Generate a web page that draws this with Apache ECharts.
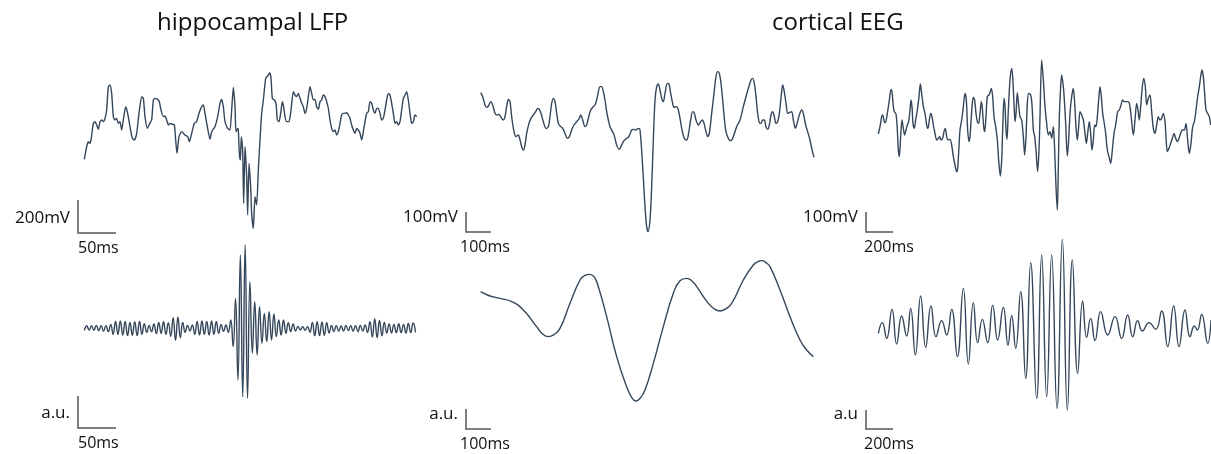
<!DOCTYPE html>
<html>
<head>
<meta charset="utf-8">
<script src="https://cdn.jsdelivr.net/npm/echarts@6/dist/echarts.min.js"></script>
<style>
  html, body { margin: 0; padding: 0; background: #fff; }
  #main { width: 1211px; height: 454px; }
</style>
</head>
<body>
<div id="main"></div>
<script>
// traces: [time, amplitude] in arbitrary sample units
var lfpRaw = [[28,2],[35,40],[40,55],[44,50],[48,60],[55,110],[60,115],[65,105],[70,92],[75,115],[80,120],[85,115],[90,125],[95,150],[100,220],[105,225],[110,200],[115,130],[120,120],[125,125],[130,110],[135,115],[140,90],[145,120],[152,160],[158,140],[165,100],[172,65],[178,60],[185,80],[192,140],[200,190],[205,185],[210,130],[217,95],[224,110],[230,120],[235,180],[240,185],[248,182],[253,175],[258,150],[265,130],[270,132],[275,120],[280,105],[285,110],[290,108],[298,105],[302,60],[306,20],[312,70],[320,85],[330,75],[338,70],[343,55],[350,80],[358,110],[365,115],[372,140],[380,160],[385,165],[390,140],[397,100],[405,62],[410,85],[420,100],[428,130],[435,170],[440,182],[445,160],[450,115],[458,95],[465,90],[470,150],[475,218],[480,160],[483,85],[488,95],[490,90],[493,20],[496,0],[499,70],[503,30],[506,-130],[510,40],[515,-50],[518,-165],[522,-10],[527,-80],[530,-160],[535,-205],[540,-110],[545,-135],[550,-30],[555,60],[560,140],[565,180],[572,245],[576,250],[580,255],[584,262],[588,245],[592,185],[598,180],[603,170],[607,120],[612,115],[617,140],[622,175],[626,160],[630,130],[635,115],[642,115],[648,150],[655,205],[660,195],[665,190],[670,200],[675,185],[680,170],[685,160],[690,140],[695,155],[700,190],[705,220],[710,200],[715,180],[720,182],[725,160],[730,152],[735,175],[740,180],[745,195],[750,190],[755,175],[760,155],[765,120],[770,95],[775,85],[780,90],[785,75],[790,85],[795,110],[800,135],[805,140],[810,140],[815,142],[820,135],[825,125],[830,105],[835,90],[840,80],[845,95],[850,90],[855,80],[860,60],[865,85],[870,115],[875,140],[880,145],[885,175],[890,170],[895,150],[900,140],[905,155],[910,155],[915,140],[920,120],[925,125],[930,150],[935,180],[940,200],[945,195],[950,170],[955,140],[960,110],[965,115],[970,105],[975,115],[980,150],[985,185],[990,195],[995,205],[1000,180],[1005,140],[1010,110],[1015,115],[1020,135],[1025,130]];

var eegRawA = [[32,202],[38,190],[45,165],[50,158],[55,162],[62,175],[68,165],[75,140],[80,135],[87,137],[93,128],[100,120],[105,130],[110,160],[115,182],[120,175],[125,130],[132,85],[138,70],[145,75],[150,60],[155,40],[160,30],[165,45],[170,80],[177,110],[183,125],[190,135],[197,145],[203,155],[208,152],[213,140],[220,115],[228,95],[235,100],[240,130],[245,170],[250,185],[255,175],[260,140],[265,110],[270,102],[278,95],[285,80],[292,65],[298,70],[305,90],[312,105],[320,115],[328,125],[332,135],[338,120],[345,100],[350,105],[355,125],[362,150],[370,160],[375,165],[380,180],[385,205],[390,220],[395,220],[400,205],[405,180],[410,145],[415,120],[420,100],[430,80],[435,65],[440,45],[447,32],[452,38],[460,55],[470,65],[475,68],[480,78],[485,90],[490,92],[497,90],[505,95],[510,90],[518,-20],[525,-140],[530,-200],[534,-215],[540,-180],[545,-80],[550,60],[555,180],[560,220],[565,228],[570,210],[575,185],[580,175],[585,200],[592,230],[597,228],[602,200],[608,170],[612,158],[620,160],[625,150],[630,125],[637,85],[643,65],[650,60],[655,75],[662,120],[668,145],[673,140],[678,120],[685,105],[692,115],[697,120],[702,110],[708,85],[713,70],[718,80],[725,140],[732,200],[738,250],[743,265],[748,260],[753,230],[758,180],[763,125],[768,85],[775,65],[782,58],[788,65],[795,85],[802,105],[808,115],[813,130],[820,160],[828,190],[835,215],[843,240],[848,245],[853,230],[858,190],[863,140],[868,112],[873,110],[878,120],[883,120],[888,100],[893,92],[898,105],[903,135],[908,145],[913,130],[918,110],[923,115],[928,140],[935,205],[938,225],[942,210],[948,170],[953,140],[958,142],[965,145],[970,120],[976,95],[980,105],[988,135],[995,150],[1000,140],[1007,105],[1013,85],[1020,60],[1025,35],[1032,8]];

var eegRawB = [[25,48],[30,70],[35,100],[38,105],[43,85],[46,82],[52,110],[58,150],[63,182],[66,175],[70,130],[73,115],[78,108],[82,60],[85,0],[88,-20],[92,40],[96,90],[100,65],[104,45],[108,60],[112,75],[116,85],[120,120],[123,150],[126,130],[129,80],[133,65],[137,90],[142,120],[147,160],[151,198],[155,170],[160,130],[165,110],[170,75],[174,65],[178,90],[182,110],[186,100],[190,75],[195,50],[200,30],[205,35],[209,40],[213,30],[218,35],[222,55],[226,65],[230,40],[234,30],[240,32],[245,15],[250,-20],[255,-45],[260,-65],[263,-55],[267,10],[270,60],[275,90],[280,130],[285,170],[289,150],[293,60],[297,25],[300,40],[303,85],[307,140],[310,158],[314,150],[318,110],[322,85],[326,80],[330,110],[334,145],[337,125],[341,70],[344,55],[348,100],[352,160],[358,167],[364,185],[368,160],[372,100],[377,70],[382,30],[386,-30],[391,-78],[395,-30],[398,60],[402,155],[405,130],[408,60],[411,32],[415,120],[420,210],[425,245],[428,220],[432,140],[435,85],[438,110],[442,172],[446,135],[450,100],[455,90],[460,40],[464,-15],[468,40],[472,140],[476,170],[482,165],[486,135],[490,60],[494,40],[498,0],[503,-65],[507,0],[510,100],[515,270],[520,210],[525,130],[530,80],[535,45],[540,55],[545,35],[550,70],[554,0],[558,-110],[562,-180],[565,-50],[568,100],[572,190],[575,225],[580,190],[583,150],[587,80],[592,-18],[596,30],[600,110],[605,160],[610,185],[614,140],[618,70],[622,30],[626,70],[630,115],[635,105],[640,90],[645,50],[649,20],[653,50],[658,85],[662,50],[666,0],[670,30],[674,75],[678,70],[682,100],[686,150],[690,190],[694,160],[698,110],[702,85],[707,50],[712,0],[717,-20],[722,-40],[727,0],[732,50],[737,75],[743,115],[748,120],[753,135],[758,150],[763,145],[768,145],[773,145],[778,140],[783,105],[790,45],[795,90],[800,140],[804,120],[808,90],[812,130],[816,180],[821,215],[826,190],[830,135],[835,155],[840,165],[845,115],[850,65],[855,50],[860,75],[865,100],[870,90],[875,95],[880,110],[885,85],[888,40],[892,-5],[897,5],[902,20],[907,35],[912,50],[917,35],[922,25],[927,35],[932,50],[937,60],[943,60],[948,80],[953,30],[958,-10],[963,20],[968,70],[973,85],[978,120],[983,160],[988,190],[992,220],[996,240],[1000,220],[1004,170],[1008,120],[1013,110],[1018,100],[1022,75]];

// ripple-band filtered LFP, one value per half cycle
var rippleStart = 28, rippleStep = 7.2;
var lfpRipple = [-6,7,-5,8,-6,9,-7,8,-9,8,-10,12,
  -18,21,-18,22,-20,21,-22,18,-21,20,-22,21,-18,
  14,-12,9,-10,13,-16,
  18,-15,20,-18,17,-24,
  32,-36,34,-28,
  18,-12,9,-8,10,
  -18,21,-20,22,-18,21,-20,22,-18,21,-15,12,-9,
  10,
  -12,25,-55,90,-155,220,-205,
  250,-210,140,-75,80,-80,65,-45,45,-40,50,-35,43,-25,25,-20,25,-15,17,-10,13,-8,
  6,-5,5,-6,5,
  -12,18,-22,20,-22,19,-21,17,-14,
  9,-10,8,-9,7,-8,9,-7,8,-9,8,-10,9,-8,10,-12,
  20,-26,28,-28,24,-22,18,
  -14,13,-14,12,-13,14,-13,12,-14,15,-13,16,-12];

var eegSlow = [[32,145],[60,132],[90,125],[125,115],[160,90],[200,40],[218,18],[235,10],[252,16],[270,35],[300,110],[330,180],[345,194],[358,197],[372,190],[385,160],[410,70],[440,-50],[470,-140],[485,-172],[498,-183],[511,-174],[525,-150],[550,-70],[580,40],[610,140],[630,178],[650,185],[668,175],[680,160],[715,110],[735,92],[750,87],[765,92],[785,110],[820,180],[850,225],[865,236],[875,238],[888,232],[900,220],[930,150],[960,70],[990,0],[1010,-30],[1030,-50]];

var eegSpindle = [[55,-5],[67,27],[80,-20],[96,67],[110,-37],[125,47],[140,-13],[152,70],[166,-70],[182,107],[197,-47],[213,77],[228,-15],[245,33],[260,-10],[275,67],[292,-75],[310,130],[325,-97],[340,87],[353,-33],[367,37],[383,-33],[398,79],[413,-25],[430,73],[444,-40],[455,49],[467,-50],[482,120],[497,-140],[512,207],[530,-200],[545,230],[560,-195],[575,230],[591,-230],[607,277],[622,-235],[637,215],[653,-125],[668,92],[680,-17],[692,40],[705,-27],[722,60],[743,-10],[765,45],[785,-20],[803,50],[818,-15],[833,33],[847,2],[867,27],[887,7],[905,62],[923,-45],[941,77],[957,-45],[975,65],[990,-15],[1003,17],[1012,5],[1025,52],[1043,-35],[1053,35]];

var titles = ['hippocampal LFP', 'cortical EEG'];
var ampLabels = ['200mV', '100mV', '100mV'];
var timeLabels = ['50ms', '100ms', '200ms'];

var lineColor = '#34465a';
var barColor = '#555';
var font = 'Open Sans';

var panels = [
  { data: lfpRaw, left: 75, top: 60, width: 350, height: 180, xMax: 1050, yMin: -240, yMax: 300, smooth: 0.2 },
  { data: eegRawA, left: 470, top: 60, width: 350, height: 180, xMax: 1050, yMin: -240, yMax: 300, smooth: 0.3 },
  { data: eegRawB, left: 870, top: 50, width: 341, height: 180, xMax: 1023, yMin: -240, yMax: 300, smooth: 0.3 },
  { data: lfpRipple.map(function (v, i) { return [rippleStart + i * rippleStep, v]; }),
    left: 75, top: 240, width: 350, height: 180, xMax: 1050, yMin: -275, yMax: 265, smooth: 0.5 },
  { data: eegSlow, left: 470, top: 240, width: 350, height: 180, xMax: 1050, yMin: -240, yMax: 300, smooth: 0.5 },
  { data: eegSpindle, left: 860, top: 230, width: 351, height: 200, xMax: 1053, yMin: -295, yMax: 305, smooth: 0.5 }
];

var grid = [], xAxis = [], yAxis = [], series = [];
panels.forEach(function (p, i) {
  grid.push({ left: p.left, top: p.top, width: p.width, height: p.height });
  xAxis.push({ type: 'value', gridIndex: i, min: 0, max: p.xMax, show: false });
  yAxis.push({ type: 'value', gridIndex: i, min: p.yMin, max: p.yMax, show: false });
  series.push({
    type: 'line', xAxisIndex: i, yAxisIndex: i, data: p.data,
    showSymbol: false, smooth: p.smooth, silent: true, animation: false,
    lineStyle: { color: lineColor, width: 1.4 }
  });
});

// scale bars: corner x, bottom y, bar height, bar width, time label left edge
var bars = [
  { x: 78, y: 233, h: 33, w: 38, tx: 78, amp: ampLabels[0], time: timeLabels[0] },
  { x: 466, y: 232, h: 20, w: 25, tx: 460, amp: ampLabels[1], time: timeLabels[1] },
  { x: 866, y: 232, h: 20, w: 27, tx: 864, amp: ampLabels[2], time: timeLabels[2] },
  { x: 78, y: 428, h: 32, w: 38, tx: 78, amp: 'a.u.', time: timeLabels[0] },
  { x: 466, y: 429, h: 20, w: 25, tx: 460, amp: 'a.u.', time: timeLabels[1] },
  { x: 866, y: 429, h: 19, w: 27, tx: 864, amp: 'a.u', time: timeLabels[2] }
];

var graphic = [
  { type: 'text', x: 157, y: 23, style: { text: titles[0], font: '24px "' + font + '"', fill: '#111', verticalAlign: 'middle' } },
  { type: 'text', x: 772, y: 23, style: { text: titles[1], font: '24px "' + font + '"', fill: '#111', verticalAlign: 'middle' } }
];
bars.forEach(function (b) {
  graphic.push({
    type: 'polyline', silent: true,
    shape: { points: [[b.x, b.y - b.h], [b.x, b.y], [b.x + b.w, b.y]] },
    style: { stroke: barColor, lineWidth: 1.5, fill: null }
  });
  graphic.push({
    type: 'text', x: b.x - 8, y: b.y - 15,
    style: { text: b.amp, font: '17px "' + font + '"', fill: '#111', align: 'right', verticalAlign: 'middle' }
  });
  graphic.push({
    type: 'text', x: b.tx, y: b.y + 15,
    style: { text: b.time, font: '16px "' + font + '"', fill: '#111', align: 'left', verticalAlign: 'middle' }
  });
});

var chart = echarts.init(document.getElementById('main'));
chart.setOption({
  animation: false,
  grid: grid,
  xAxis: xAxis,
  yAxis: yAxis,
  series: series,
  graphic: graphic
});
</script>
</body>
</html>
